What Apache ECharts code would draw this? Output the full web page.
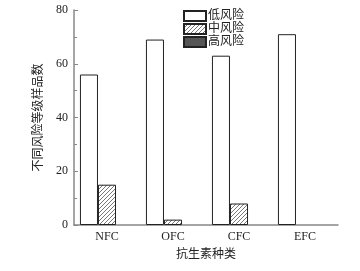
<!DOCTYPE html>
<html><head><meta charset="utf-8">
<script src="https://cdn.jsdelivr.net/npm/echarts@6/dist/echarts.min.js"></script>
<style>html,body{margin:0;padding:0;background:#fff}#c{width:360px;height:271px}</style>
</head><body><div id="c"></div>
<script>
const categories = ['NFC', 'OFC', 'CFC', 'EFC'];
const seriesNames = ['低风险', '中风险', '高风险'];
const lowRisk = [56, 69, 63, 71];
const midRisk = [15, 2, 8, 0];
const highRisk = [0, 0, 0, 0];
const yTicks = [0, 20, 40, 60, 80];

function hatch() {
  const c = document.createElement('canvas');
  c.width = 4; c.height = 4;
  const g = c.getContext('2d');
  g.fillStyle = '#fff'; g.fillRect(0, 0, 4, 4);
  g.strokeStyle = '#777'; g.lineWidth = 1;
  g.beginPath();
  g.moveTo(-1, 5); g.lineTo(5, -1);
  g.moveTo(-1, 1); g.lineTo(1, -1);
  g.moveTo(3, 5); g.lineTo(5, 3);
  g.stroke();
  return c;
}
function toData(arr) {
  return arr.map(v => v === 0 ? { value: v, itemStyle: { borderWidth: 0, opacity: 0 } } : v);
}
const serif = '"Liberation Serif", "Noto Sans CJK SC", serif';
const chart = echarts.init(document.getElementById('c'));
chart.setOption({
  animation: false,
  backgroundColor: '#fff',
  grid: { left: 74, right: 22, top: 10, bottom: 46 },
  legend: {
    orient: 'vertical', left: 178, top: 5,
    itemWidth: 22, itemHeight: 10, itemGap: 1,
    icon: 'rect',
    textStyle: { fontFamily: serif, fontSize: 12, lineHeight: 11, color: '#222', padding: [0, 0, 0, -3] },
    data: seriesNames
  },
  xAxis: {
    type: 'category', data: categories,
    name: '抗生素种类', nameLocation: 'middle', nameGap: 24,
    nameTextStyle: { fontFamily: serif, fontSize: 12, color: '#222' },
    axisLine: { lineStyle: { color: '#888', width: 1.5 } },
    axisTick: { show: false },
    axisLabel: { fontFamily: serif, fontSize: 12, color: '#222', margin: 6 }
  },
  yAxis: {
    type: 'value', min: yTicks[0], max: yTicks[yTicks.length - 1], interval: 20,
    name: '不同风险等级样品数', nameLocation: 'middle', nameGap: 26,
    nameTextStyle: { fontFamily: serif, fontSize: 12, color: '#222' },
    axisLine: { show: true, lineStyle: { color: '#888', width: 1.5 } },
    axisTick: { show: true, inside: true, length: 4, lineStyle: { color: '#888' } },
    minorTick: { show: true, splitNumber: 2, length: 3, lineStyle: { color: '#888' } },
    splitLine: { show: false },
    axisLabel: { fontFamily: serif, fontSize: 12, color: '#222', margin: 6 }
  },
  series: [
    { name: seriesNames[0], type: 'bar', data: toData(lowRisk), barCategoryGap: '18%', barGap: '0%',
      itemStyle: { color: '#fff', borderColor: '#222', borderWidth: 1 } },
    { name: seriesNames[1], type: 'bar', data: toData(midRisk), barGap: '0%',
      itemStyle: { color: { image: hatch(), repeat: 'repeat' }, borderColor: '#222', borderWidth: 1 } },
    { name: seriesNames[2], type: 'bar', data: toData(highRisk), barGap: '0%',
      itemStyle: { color: '#555', borderColor: '#222', borderWidth: 1 } }
  ]
});
</script></body></html>
